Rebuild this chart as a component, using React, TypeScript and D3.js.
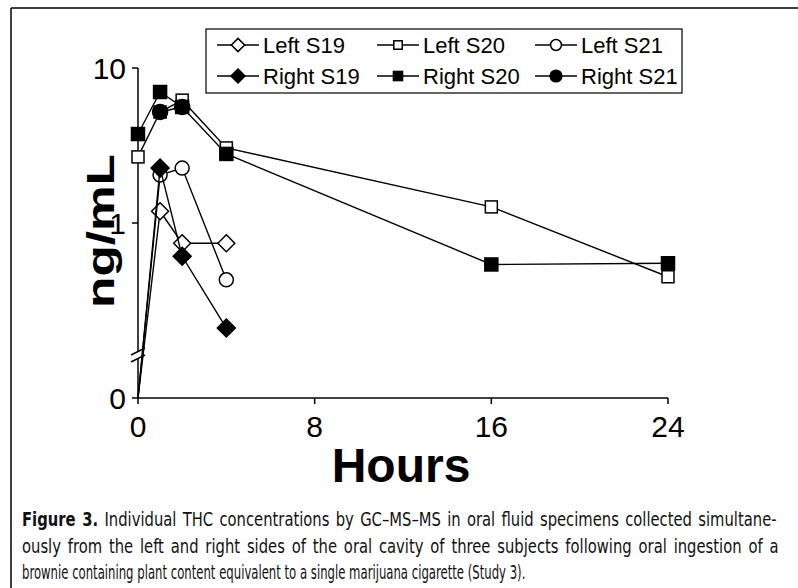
import React, { useLayoutEffect, useRef, useState } from "react";
import * as d3 from "d3";

// ---- data ----
const xTicks = [0, 8, 16, 24];
const yTicks = [1, 10];
const seriesNames = ["Left S19", "Left S20", "Left S21", "Right S19", "Right S20", "Right S21"];
const leftS19T = [0, 1, 2, 4];
const leftS19V = [0, 1.19, 0.74, 0.74];
const leftS20T = [0, 1, 2, 4, 16, 24];
const leftS20V = [2.67, 5.2, 6.2, 3.05, 1.27, 0.45];
const leftS21T = [0, 1, 2, 4];
const leftS21V = [0, 2.04, 2.26, 0.43];
const rightS19T = [0, 1, 2, 4];
const rightS19V = [0, 2.26, 0.61, 0.21];
const rightS20T = [0, 1, 2, 4, 16, 24];
const rightS20V = [3.75, 7.0, 5.6, 2.79, 0.54, 0.55];
const rightS21T = [1, 2];
const rightS21V = [5.2, 5.6];
const captionBold = "Figure 3.";
const captionLines = [
  " Individual THC concentrations by GC\u2013MS\u2013MS in oral fluid specimens collected simultane-",
  "ously from the left and right sides of the oral cavity of three subjects following oral ingestion of a",
  "brownie containing plant content equivalent to a single marijuana cigarette (Study 3).",
];

type Shape = "diamond" | "square" | "circle";
const series = [
  { name: seriesNames[0], t: leftS19T, v: leftS19V, shape: "diamond" as Shape, filled: false },
  { name: seriesNames[1], t: leftS20T, v: leftS20V, shape: "square" as Shape, filled: false },
  { name: seriesNames[2], t: leftS21T, v: leftS21V, shape: "circle" as Shape, filled: false },
  { name: seriesNames[3], t: rightS19T, v: rightS19V, shape: "diamond" as Shape, filled: true },
  { name: seriesNames[4], t: rightS20T, v: rightS20V, shape: "square" as Shape, filled: true },
  { name: seriesNames[5], t: rightS21T, v: rightS21V, shape: "circle" as Shape, filled: true },
];

const FONT = "'Liberation Sans', Arial, Helvetica, sans-serif";
const CAPFONT = "'DejaVu Sans Condensed', 'Liberation Sans Narrow', 'Liberation Sans', sans-serif";

const x = d3.scaleLinear().domain([0, 24]).range([138, 668]);
const yLog = d3.scaleLog().domain([1, 10]).range([223, 68]);
const yZero = 398;
const yPos = (v: number) => (v <= 0 ? yZero : yLog(v));

function Marker({ cx, cy, shape, filled, scale = 1 }: { cx: number; cy: number; shape: Shape; filled: boolean; scale?: number }) {
  const fill = filled ? "#000" : "#fff";
  const sw = 1.5;
  if (shape === "diamond") {
    const r = (filled ? 9 : 8.5) * scale;
    return (
      <path
        d={`M${cx},${cy - r}L${cx + r},${cy}L${cx},${cy + r}L${cx - r},${cy}Z`}
        fill={fill}
        stroke="#000"
        strokeWidth={sw}
      />
    );
  }
  if (shape === "square") {
    const s = (filled ? 13 : 12) * scale * (scale < 1 ? 0.9 : 1);
    return <rect x={cx - s / 2} y={cy - s / 2} width={s} height={s} fill={fill} stroke="#000" strokeWidth={sw} />;
  }
  const r = (filled ? 7.5 : 7) * scale;
  return <circle cx={cx} cy={cy} r={r} fill={fill} stroke="#000" strokeWidth={sw} />;
}

// caption: line 2 (with a little extra word spacing) sets the horizontal scale;
// line 1 is justified to the same width; line 3 is fitted to its own width.
const capX = 22;
const capY = [526, 553, 579];
const capW = [754, 756, 503];
const baseWs = 2.5;

function Caption() {
  const refs = [useRef<SVGTextElement>(null), useRef<SVGTextElement>(null), useRef<SVGTextElement>(null)];
  const [state, setState] = useState<{ sx: number[]; ws: number[] }>({ sx: [0.8, 0.8, 0.8], ws: [0, 0, 0] });
  useLayoutEffect(() => {
    const widths = refs.map((r) => (r.current ? r.current.getComputedTextLength() : 0));
    if (!widths[1]) return;
    const texts = [captionBold + captionLines[0], captionLines[1], captionLines[2]];
    const spaces = texts.map((t) => (t.match(/ /g) || []).length);
    const sx = capW[1] / (widths[1] + spaces[1] * baseWs);
    const ws0 = Math.max(0, (capW[0] / sx - widths[0]) / spaces[0]);
    const sx3 = capW[2] / widths[2];
    setState({ sx: [sx, sx, sx3], ws: [ws0, baseWs, 0] });
    // eslint-disable-next-line react-hooks/exhaustive-deps
  }, []);
  return (
    <g fontFamily={CAPFONT} fontSize={19} fill="#111">
      <text ref={refs[0]} transform={`translate(${capX},${capY[0]}) scale(${state.sx[0]},1)`} wordSpacing={state.ws[0]}>
        <tspan fontWeight="bold">{captionBold}</tspan>
        <tspan>{captionLines[0]}</tspan>
      </text>
      <text ref={refs[1]} transform={`translate(${capX},${capY[1]}) scale(${state.sx[1]},1)`} wordSpacing={state.ws[1]}>
        {captionLines[1]}
      </text>
      <text ref={refs[2]} transform={`translate(${capX},${capY[2]}) scale(${state.sx[2]},1)`}>
        {captionLines[2]}
      </text>
    </g>
  );
}

export default function App() {
  const line = d3
    .line<[number, number]>()
    .x((d) => x(d[0]))
    .y((d) => yPos(d[1]));

  const legendCols = [217, 377, 535];
  const legendRows = [45, 76];
  const segLen = 42;

  return (
    <svg
      width={798}
      height={588}
      style={{ position: "absolute", left: 0, top: 0, background: "#fff" }}
      fontFamily={FONT}
    >
      <rect x={0} y={0} width={798} height={588} fill="#fff" />
      {/* frame */}
      <line x1={11} y1={8} x2={798} y2={8} stroke="#000" strokeWidth={1.5} />
      <line x1={11} y1={8} x2={11} y2={588} stroke="#000" strokeWidth={1.5} />

      {/* y axis with break */}
      <line x1={138} y1={yLog(10)} x2={138} y2={352} stroke="#000" strokeWidth={1.5} />
      <line x1={138} y1={359} x2={138} y2={yZero} stroke="#000" strokeWidth={1.5} />
      <line x1={131} y1={355} x2={145} y2={348} stroke="#000" strokeWidth={1.5} />
      <line x1={131} y1={362} x2={145} y2={355} stroke="#000" strokeWidth={1.5} />
      {yTicks.map((t) => (
        <g key={t}>
          <line x1={132} x2={138} y1={yLog(t)} y2={yLog(t)} stroke="#000" strokeWidth={1.5} />
          <text x={126} y={yLog(t) + 11} fontSize={30} textAnchor="end">
            {t}
          </text>
        </g>
      ))}
      <line x1={132} x2={138} y1={yZero} y2={yZero} stroke="#000" strokeWidth={1.5} />
      <text x={126} y={yZero + 11} fontSize={30} textAnchor="end">
        0
      </text>

      {/* x axis */}
      <line x1={x(0)} x2={x(24)} y1={yZero} y2={yZero} stroke="#000" strokeWidth={1.5} />
      {xTicks.map((t) => (
        <g key={t}>
          <line x1={x(t)} x2={x(t)} y1={yZero} y2={yZero + 6} stroke="#000" strokeWidth={1.5} />
          <text x={x(t)} y={yZero + 39} fontSize={30} textAnchor="middle">
            {t}
          </text>
        </g>
      ))}

      {/* axis titles */}
      <text
        transform={`translate(114,231) rotate(-90) scale(1.35,1)`}
        fontSize={38}
        fontWeight="bold"
        textAnchor="middle"
      >
        ng/mL
      </text>
      <text x={401} y={482} fontSize={48} fontWeight="bold" textAnchor="middle">
        Hours
      </text>

      {/* series */}
      {series.map((s) => {
        const pts = s.t.map((t, i) => [t, s.v[i]] as [number, number]);
        return (
          <g key={s.name}>
            <path d={line(pts) || ""} fill="none" stroke="#000" strokeWidth={1.4} />
            {pts
              .filter((p) => p[1] > 0)
              .map((p, i) => (
                <Marker key={i} cx={x(p[0])} cy={yPos(p[1])} shape={s.shape} filled={s.filled} />
              ))}
          </g>
        );
      })}

      {/* legend */}
      <rect x={206} y={29} width={476} height={64} fill="#fff" stroke="#000" strokeWidth={1.2} />
      {series.map((s, i) => {
        const col = i % 3;
        const row = Math.floor(i / 3);
        const x0 = legendCols[col];
        const yy = legendRows[row];
        return (
          <g key={s.name}>
            <line x1={x0} x2={x0 + segLen} y1={yy} y2={yy} stroke="#000" strokeWidth={1.5} />
            <Marker cx={x0 + segLen / 2} cy={yy} shape={s.shape} filled={s.filled} scale={0.78} />
            <text x={x0 + segLen + 4} y={yy + 8} fontSize={22}>
              {s.name}
            </text>
          </g>
        );
      })}

      <Caption />
    </svg>
  );
}
